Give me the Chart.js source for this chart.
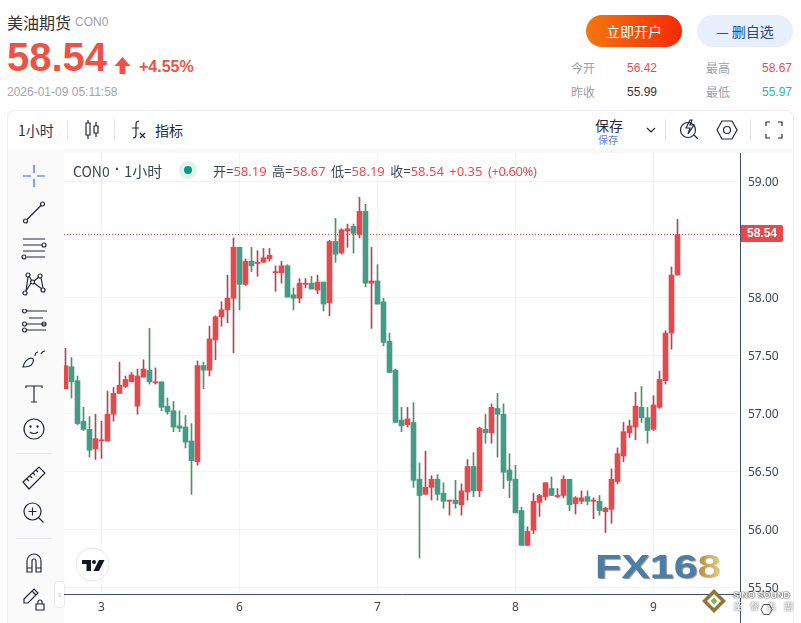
<!DOCTYPE html>
<html>
<head>
<meta charset="utf-8">
<script src="https://cdn.jsdelivr.net/npm/chart.js@4/dist/chart.umd.min.js"></script>
<style>
html,body{margin:0;padding:0;background:#fff;}
#page{position:relative;width:801px;height:623px;overflow:hidden;font-family:"Liberation Sans","Noto Sans CJK SC",sans-serif;}
#page div,#page span{position:absolute;white-space:nowrap;}
#chartBox{left:64px;top:153px;width:729px;height:470px;}
.stat{font-size:12px;line-height:14px;}
.lbl{color:#9a9ea8;font-family:"Noto Sans CJK SC";}
.r{color:#ef4a4f;}
#toolbar svg,#sidebar svg{position:absolute;}
#sidebar svg *,#toolbar svg *{fill:none;stroke:#23293a;stroke-width:1.2;}
</style>
</head>
<body>
<div id="page">
  <div style="left:7px;top:12px;font-size:16px;line-height:20px;color:#333;font-family:'Noto Sans CJK SC'">美油期货</div>
  <div style="left:75px;top:15px;font-size:12px;line-height:15px;color:#9a9ea8">CON0</div>
  <div style="left:7px;top:34px;font-size:40px;line-height:46px;font-weight:bold;color:#ee5245">58.54</div>
  <svg style="position:absolute;left:114px;top:56px" width="18" height="19"><path d="M8.5 1 L16.5 10 L11.5 10 L11.5 18 L5.5 18 L5.5 10 L0.5 10 Z" fill="#ee5245"/></svg>
  <div style="left:139px;top:57px;font-size:16px;line-height:19px;font-weight:bold;color:#ee5245">+4.55%</div>
  <div style="left:7px;top:85px;font-size:12px;line-height:15px;color:#a2a5ad">2026-01-09 05:11:58</div>

  <div style="left:586px;top:15px;width:96px;height:32px;border-radius:16px;background:linear-gradient(90deg,#f5760f,#f52a05);color:#fff;font-size:14px;line-height:32px;text-align:center;font-family:'Noto Sans CJK SC'">立即开户</div>
  <div style="left:697px;top:15px;width:96px;height:32px;border-radius:16px;background:#e7effc;color:#1d4a9a;font-size:14px;line-height:32px;text-align:center;font-family:'Noto Sans CJK SC'">— 删自选</div>

  <div class="stat lbl" style="left:571px;top:61px">今开</div>
  <div class="stat r" style="left:627px;top:61px">56.42</div>
  <div class="stat lbl" style="left:706px;top:61px">最高</div>
  <div class="stat r" style="left:762px;top:61px">58.67</div>
  <div class="stat lbl" style="left:571px;top:85px">昨收</div>
  <div class="stat" style="left:627px;top:85px;color:#333">55.99</div>
  <div class="stat lbl" style="left:706px;top:85px">最低</div>
  <div class="stat" style="left:762px;top:85px;color:#2fb98f">55.97</div>

  <!-- 枠とツールバー -->
  <div style="left:7px;top:110px;width:785px;height:530px;border:1px solid #eceef2;border-radius:8px;"></div>
  <div style="left:8px;top:149px;width:784px;height:4px;background:#f7f8fa"></div>
  <div style="left:8px;top:149px;width:56px;height:474px;background:#fafafb"></div>
  <div style="left:793px;top:153px;width:1px;height:470px;background:#eceef2"></div>

  <div id="toolbar">
    <div style="left:18px;top:121px;font-size:14px;line-height:18px;color:#2a3145;font-family:'Noto Sans CJK SC'">1小时</div>
    <div style="left:67px;top:119px;width:1px;height:22px;background:#e2e4ea"></div>
    <svg style="left:84px;top:119px" width="16" height="22"><path d="M2 4h4v12h-4zM4 1v3M4 16v4M10 7h4v7h-4zM12 3v4M12 14v4"/></svg>
    <div style="left:114px;top:119px;width:1px;height:22px;background:#e2e4ea"></div>
    <svg style="left:130px;top:120px" width="18" height="20"><path d="M9 1c-3 0-3 2-3 4v10c0 2-1 3-3 3M2 8h7M10 13l5 5M15 13l-5 5"/></svg>
    <div style="left:155px;top:121px;font-size:14px;line-height:18px;color:#23293a;font-family:'Noto Sans CJK SC'">指标</div>
    <div style="left:595px;top:117px;font-size:14px;line-height:17px;color:#23293a;font-family:'Noto Sans CJK SC'">保存</div>
    <div style="left:598px;top:133px;font-size:10px;line-height:13px;color:#5b83e8;font-family:'Noto Sans CJK SC'">保存</div>
    <svg style="left:646px;top:126px" width="10" height="8"><path d="M1 2l4 4l4-4"/></svg>
    <div style="left:665px;top:119px;width:1px;height:22px;background:#e2e4ea"></div>
    <svg style="left:679px;top:118px" width="20" height="23"><circle cx="9" cy="12" r="7.5"/><path d="M15 17l4 4M11 2l-4 8h4l-2 6l6-9h-4l2-5z" /></svg>
    <svg style="left:716px;top:119px" width="22" height="22"><path d="M1 11l5-9h10l5 9l-5 9h-10z"/><circle cx="11" cy="11" r="3.5"/></svg>
    <div style="left:750px;top:119px;width:1px;height:22px;background:#e2e4ea"></div>
    <svg style="left:765px;top:121px" width="18" height="18"><path d="M1 5v-4h4M13 1h4v4M17 13v4h-4M5 17h-4v-4"/></svg>
  </div>

  <div id="sidebar">
    <svg style="left:22px;top:164px" width="24" height="24"><path style="stroke:#2962ff" d="M12 1v8M12 15v8M1 12h8M15 12h8"/></svg>
    <svg style="left:22px;top:200px" width="24" height="24"><circle cx="3.5" cy="21" r="2"/><circle cx="20.5" cy="4" r="2"/><path d="M5 19.5L19 5.5"/></svg>
    <svg style="left:21px;top:237px" width="26" height="24"><path d="M2 2h22M2 8h19M2 14h22M6 20h18"/><circle cx="23" cy="8" r="2"/><circle cx="3" cy="20" r="2"/></svg>
    <svg style="left:22px;top:272px" width="24" height="24"><circle cx="6" cy="3" r="2"/><circle cx="18" cy="4" r="2"/><circle cx="10.5" cy="10" r="2"/><circle cx="3" cy="21" r="2"/><circle cx="21" cy="18" r="2"/><path d="M4 19L6 5M7 4l3 5M12 9l5-4M19 6l2 10M12 11l8 6M9 11l-5 8"/></svg>
    <svg style="left:21px;top:309px" width="26" height="24"><path d="M5 2h22M8 9h14M5 15h20M5 21h20" /><circle cx="3.5" cy="2" r="2"/><circle cx="3.5" cy="15" r="2"/><circle cx="23" cy="15" r="2"/><circle cx="3.5" cy="21" r="2"/></svg>
    <svg style="left:22px;top:346px" width="26" height="24"><path d="M1 21c1-4 3-8 8-9c3 0 3 3 1 6c-1 2-3 3-9 3zM13 10c0-3 2-4 3-4M19 8c1-2 3-3 4-3"/></svg>
    <svg style="left:25px;top:384px" width="18" height="20"><path d="M1 4v-2h16v2M9 2v16M6 18h6"/></svg>
    <svg style="left:23px;top:418px" width="24" height="24"><circle cx="11" cy="11" r="10"/><circle cx="7.5" cy="8.5" r="0.6"/><circle cx="14.5" cy="8.5" r="0.6"/><path d="M7 14c2 2 6 2 8 0"/></svg>
    <div style="left:16px;top:453px;width:36px;height:1px;background:#e2e4ea"></div>
    <svg style="left:22px;top:466px" width="24" height="24"><path d="M1 16L17 1l6 6L7 23zM5 13l2 2M8 10l2 2M11 7l2 2M14 4l2 2"/></svg>
    <svg style="left:23px;top:502px" width="22" height="22"><circle cx="9.5" cy="9.5" r="8.5"/><path d="M15.5 15.5l5 5M9.5 5.5v8M5.5 9.5h8"/></svg>
    <div style="left:16px;top:538px;width:36px;height:1px;background:#e2e4ea"></div>
    <svg style="left:25px;top:552px" width="18" height="22"><path d="M2 20v-11a7 7 0 0 1 14 0v11h-5v-11a2 2 0 0 0-4 0v11zM2 16h5M11 16h5"/></svg>
    <svg style="left:22px;top:587px" width="24" height="24"><path d="M2 12L12 2l4 4L6 16H2zM10 4l4 4"/><path d="M14 17h8v6h-8zM16 17v-2a2 2 0 0 1 4 0v2"/></svg>
    <div style="left:54px;top:581px;width:9px;height:25px;background:#fff;border:1px solid #e6e8ee;border-radius:4px;color:#b8bcc6;font-size:10px;line-height:25px;text-align:center">‹</div>
  </div>

  <div id="chartBox"><canvas id="kline" width="729" height="470"></canvas></div>
  <div style="left:740px;top:153px;width:1px;height:470px;background:#3f4d73"></div>

  <!-- 凡例 -->
  <div style="left:73px;top:162px;font-size:14px;line-height:18px;color:#3d4659;font-family:'Noto Sans CJK SC'">CON0</div>
  <div style="left:115px;top:162px;font-size:14px;line-height:14px;color:#3d4659;font-weight:bold">·</div>
  <div style="left:124px;top:162px;font-size:15px;line-height:18px;color:#3d4659;font-family:'Noto Sans CJK SC'">1小时</div>
  <div style="left:179px;top:161px;width:18px;height:18px;border-radius:9px;background:#dff1ec"></div>
  <div style="left:184px;top:166px;width:8px;height:8px;border-radius:4px;background:#089981"></div>
  <div id="ohlc" style="left:213px;top:163px;font-size:13px;line-height:16px;word-spacing:2px;color:#3d4659;font-family:'Noto Sans','Noto Sans CJK SC'"></div>

  <!-- TradingView マーク -->
  <svg style="position:absolute;left:75px;top:547px" width="35" height="35">
    <circle cx="17.5" cy="17.5" r="16.5" fill="#fff" stroke="#e3e5ec" stroke-width="1"/>
    <path d="M7 13H16V24H11.5V17H7Z" fill="#131722"/>
    <circle cx="19" cy="15" r="2" fill="#131722"/>
    <path d="M24 13H29.5L24 24H18.5Z" fill="#131722"/>
  </svg>

  <!-- ロゴ -->
  <div style="left:595px;top:546px;font-size:33px;line-height:42px;font-weight:bold;color:#4a7ea4;font-family:'Liberation Sans';transform:scaleX(1.3);transform-origin:left top;text-shadow:1px 1px 1px #888">FX16<span style="position:static;background:linear-gradient(90deg,#b58a3e,#e8cc8c);-webkit-background-clip:text;color:transparent;text-shadow:none">8</span></div>
  <svg style="position:absolute;left:702px;top:589px" width="24" height="24"><path d="M12 0L24 12L12 24L0 12Z" fill="#8a7a3a"/><path d="M12 5L19 12L12 19L5 12Z" fill="#fff"/><path d="M12 8.5L15.5 12L12 15.5L8.5 12Z" fill="#8ab24a"/></svg>
  <div style="left:733px;top:590px;font-size:9px;line-height:11px;font-weight:bold;color:#fff;text-shadow:0 0 2px #333,0 0 1px #333">SINO SOUND</div>
  <div style="left:733px;top:601px;font-size:9px;line-height:11px;letter-spacing:8px;color:#fff;text-shadow:0 0 2px #333;font-family:'Noto Sans CJK SC'">漢聲集團</div>
  <svg style="position:absolute;left:760px;top:603px" width="13" height="13"><path d="M1 6.5L3.7 1.5H9.3L12 6.5L9.3 11.5H3.7Z" fill="none" stroke="#555" stroke-width="1"/></svg>
</div>

<script>
// 価格データ(1時間足)
var opens  = [57.21,57.40,57.28,56.93,56.86,56.69,56.76,56.76,56.99,57.17,57.23,57.27,57.06,57.31,57.37,57.26,57.27,57.06,57.02,56.89,56.88,56.76,56.58,57.41,57.37,57.63,57.83,57.89,57.99,58.43,
              58.11,58.31,58.29,58.30,58.33,58.21,58.21,58.27,58.02,57.99,58.11,58.12,58.06,58.13,57.95,58.48,58.38,58.57,58.61,58.54,58.74,58.12,58.14,57.96,57.62,57.37,56.94,56.90,56.92,56.43,
              56.30,56.36,56.43,56.31,56.24,56.25,56.21,56.32,56.54,56.33,56.86,56.83,57.04,56.99,56.51,56.43,56.16,55.86,55.99,56.23,56.28,56.35,56.28,56.29,56.43,56.22,56.24,56.28,56.24,56.24,
              56.15,56.17,56.41,56.63,56.83,56.88,57.05,56.96,56.86,57.05,57.28,57.69,58.19];
var closes = [57.41,57.27,56.91,56.86,56.68,56.78,56.77,56.99,57.17,57.24,57.29,57.33,57.32,57.38,57.27,57.27,57.05,57.01,56.88,56.87,56.75,56.59,57.41,57.37,57.64,57.83,57.89,57.99,58.43,58.11,
              58.31,58.27,58.30,58.34,58.36,58.22,58.27,58.00,57.99,58.12,58.12,58.07,58.13,57.94,58.48,58.37,58.58,58.59,58.55,58.74,58.12,58.14,57.94,57.61,57.35,56.92,56.89,56.95,56.42,56.29,
              56.36,56.43,56.30,56.24,56.25,56.22,56.33,56.54,56.33,56.87,56.83,57.05,56.99,56.49,56.42,56.14,55.86,55.98,56.24,56.29,56.40,56.29,56.29,56.43,56.21,56.27,56.27,56.24,56.25,56.16,
              56.18,56.43,56.65,56.84,56.89,57.06,56.96,56.85,57.07,57.29,57.69,58.19,58.54];
var highs  = [57.56,57.48,57.32,57.05,56.97,56.99,56.93,57.19,57.22,57.44,57.32,57.35,57.38,57.46,57.73,57.39,57.27,57.13,57.10,57.02,56.98,56.91,57.45,57.44,57.75,57.84,57.96,58.19,58.51,58.43,
              58.33,58.43,58.40,58.42,58.42,58.27,58.31,58.28,58.08,58.16,58.16,58.18,58.19,58.13,58.49,58.68,58.59,58.63,58.63,58.86,58.80,58.43,58.28,57.99,57.69,57.38,57.05,57.05,57.09,56.57,
              56.67,56.46,56.47,56.40,56.25,56.42,56.39,56.60,56.66,56.88,56.99,57.08,57.17,57.08,56.65,56.55,56.19,56.02,56.31,56.30,56.40,56.45,56.35,56.46,56.43,56.28,56.33,56.33,56.27,56.29,
              56.19,56.52,56.70,56.92,56.94,57.18,57.23,57.05,57.15,57.36,57.71,58.26,58.67];
var lows   = [57.21,57.13,56.90,56.85,56.62,56.60,56.61,56.76,56.93,57.17,57.22,57.27,56.99,57.31,57.25,57.25,57.02,56.99,56.84,56.84,56.70,56.30,56.55,57.21,57.32,57.46,57.75,57.78,57.52,57.89,
              58.10,58.22,58.18,58.30,58.31,58.05,58.12,58.00,57.89,57.95,58.08,58.07,58.03,57.88,57.84,58.30,58.37,58.43,58.38,58.51,58.09,57.73,57.94,57.58,57.35,56.92,56.84,56.88,56.36,55.75,
              56.30,56.25,56.25,56.18,56.12,56.18,56.12,56.25,56.28,56.28,56.74,56.74,56.62,56.35,56.27,56.14,55.86,55.86,55.96,56.11,56.25,56.29,56.27,56.27,56.16,56.13,56.22,56.21,56.09,56.12,
              55.97,56.05,56.39,56.58,56.79,56.77,56.92,56.74,56.85,57.04,57.25,57.55,58.19];

// 軸の目盛り
var priceTicks = [59, 58.5, 58, 57.5, 57, 56.5, 56, 55.5];
var dayIndexes = [6, 29, 52, 75, 98];
var dayLabels  = ['3', '6', '7', '8', '9'];

var lastPrice = 58.54;
var upColor = '#e34a4f', downColor = '#459b85';
var upWick = '#a94b57', downWick = '#4f9068';
var xMin = -0.25, xMax = 112.4167;

function isUp(i) { return closes[i] >= opens[i]; }

var bodyData = opens.map(function(o, i) { return { x: i, y: [o, closes[i]] }; });
var wickData = highs.map(function(h, i) { return { x: i, y: [lows[i], h] }; });

// 現在値ラベル
var priceLabelPlugin = {
  id: 'priceLabel',
  afterDraw: function(chart) {
    var ctx = chart.ctx;
    var y = chart.scales.y.getPixelForValue(lastPrice);
    var left = chart.chartArea.right;
    ctx.save();
    ctx.fillStyle = '#e8474c';
    ctx.beginPath();
    ctx.roundRect(left, Math.round(y) - 9, 43, 17, [0, 2, 2, 0]);
    ctx.fill();
    ctx.fillStyle = '#fff';
    ctx.font = 'bold 12px "Liberation Sans"';
    ctx.textAlign = 'center';
    ctx.textBaseline = 'middle';
    ctx.fillText(lastPrice.toFixed(2), left + 22, Math.round(y));
    ctx.restore();
  }
};

new Chart(document.getElementById('kline'), {
  type: 'bar',
  data: {
    datasets: [
      {
        type: 'line',
        data: [{ x: xMin, y: lastPrice }, { x: xMax, y: lastPrice }],
        borderColor: '#ee3a40',
        borderWidth: 1,
        borderDash: [1, 2],
        pointRadius: 0,
        order: 3
      },
      {
        data: wickData,
        backgroundColor: function(c) { return isUp(c.dataIndex) ? upWick : downWick; },
        barThickness: 1,
        grouped: false,
        order: 2
      },
      {
        data: bodyData,
        backgroundColor: function(c) { return isUp(c.dataIndex) ? upColor : downColor; },
        barThickness: 5,
        grouped: false,
        order: 1
      }
    ]
  },
  plugins: [priceLabelPlugin],
  options: {
    responsive: false,
    animation: false,
    parsing: { xAxisKey: 'x', yAxisKey: 'y' },
    layout: { padding: 0 },
    plugins: { legend: { display: false }, tooltip: { enabled: false } },
    scales: {
      x: {
        type: 'linear',
        offset: false,
        min: xMin,
        max: xMax,
        afterFit: function(s) { s.height = 29; s.paddingLeft = 0; s.paddingRight = 0; },
        afterBuildTicks: function(s) {
          s.ticks = dayIndexes.map(function(v) { return { value: v }; });
        },
        ticks: {
          autoSkip: false,
          maxRotation: 0,
          padding: 6,
          color: '#3d4659',
          font: { family: 'Noto Sans', size: 12 },
          callback: function(value) { return dayLabels[dayIndexes.indexOf(value)]; }
        },
        grid: { color: '#f2f3f5', drawTicks: false, offset: false },
        border: { color: '#3f4d73', width: 1 }
      },
      y: {
        position: 'right',
        min: 55.4406,
        max: 59.2426,
        afterFit: function(s) { s.width = 53; s.paddingTop = 0; s.paddingBottom = 0; },
        afterBuildTicks: function(s) {
          s.ticks = priceTicks.map(function(v) { return { value: v }; });
        },
        ticks: {
          padding: 8,
          labelOffset: 1,
          color: '#3d4659',
          font: { family: 'Noto Sans', size: 12 },
          // 58.50 は現在値ラベルの下に隠れる
          callback: function(value) { return value === 58.5 ? '' : value.toFixed(2); }
        },
        grid: { color: '#f2f3f5', drawTicks: false },
        border: { color: '#3f4d73', width: 1 }
      }
    }
  }
});

// 凡例の OHLC
var n = opens.length - 1;
var chg = closes[n] - opens[n];
function red(s) { return '<span style="position:static;color:#ef4a4f">' + s + '</span>'; }
document.getElementById('ohlc').innerHTML =
  '开=' + red(opens[n].toFixed(2)) + ' 高=' + red(highs[n].toFixed(2)) +
  ' 低=' + red(lows[n].toFixed(2)) + ' 收=' + red(closes[n].toFixed(2)) +
  ' ' + red('+' + chg.toFixed(2)) + ' <span style="position:static;color:#ef4a4f;letter-spacing:-0.4px">(+0.60%)</span>';
</script>
</body>
</html>
